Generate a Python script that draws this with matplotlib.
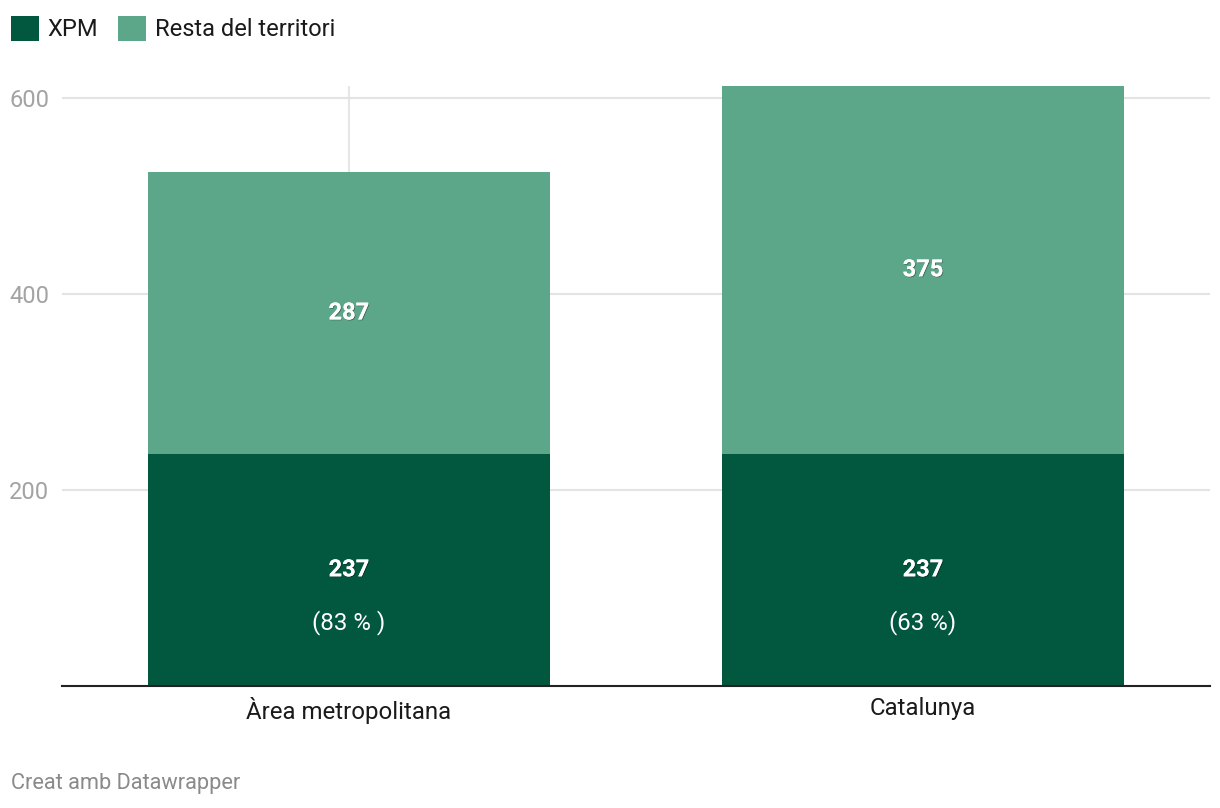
import matplotlib.pyplot as plt
import matplotlib.patheffects as pe
import numpy as np

plt.rcParams["font.family"] = ["Roboto", "DejaVu Sans"]

categories = ["Àrea metropolitana", "Catalunya"]
xpm = [237, 237]
resta = [287, 375]
pct_labels = ["(83 % )", "(63 %)"]
yticks = [200, 400, 600]

dark = "#02573f"
light = "#5ca68a"


def main():
    fig = plt.figure(figsize=(12.2, 8.08), dpi=100)
    ax = fig.add_axes([62 / 1220, 1 - 686 / 808, 1148 / 1220, 600 / 808])

    x = np.arange(len(categories))
    totals = np.array(xpm) + np.array(resta)

    b1 = ax.bar(x, xpm, width=0.7, color=dark, label="XPM", zorder=3)
    b2 = ax.bar(x, resta, bottom=xpm, width=0.7, color=light,
                label="Resta del territori", zorder=3)

    # thin grey line above the shorter bar
    ax.vlines(x[0], totals[0], totals.max(), color="#e6e6e6", lw=1.5, zorder=1)

    shadow = [pe.withSimplePatchShadow(offset=(0.6, -0.6), shadow_rgbFace="black", alpha=0.35),
              pe.Normal()]
    for i in x:
        ax.text(i, xpm[i] / 2, str(xpm[i]), ha="center", va="center",
                color="white", fontsize=17, fontweight="bold",
                path_effects=shadow, zorder=4)
        ax.text(i, xpm[i] + resta[i] / 2, str(resta[i]), ha="center", va="center",
                color="white", fontsize=17, fontweight="bold",
                path_effects=shadow, zorder=4)
        ax.annotate(pct_labels[i], (i, xpm[i] / 2), xytext=(0, -38),
                    textcoords="offset points", ha="center", va="center",
                    color="white", fontsize=17.3, zorder=4)

    ax.set_xlim(-0.5, 1.5)
    ax.set_ylim(0, totals.max())
    ax.set_yticks(yticks)
    ax.set_yticklabels([str(t) for t in yticks])
    ax.grid(axis="y", color="#e3e3e3", lw=1.5, zorder=0)
    ax.tick_params(axis="y", length=0, pad=9, labelsize=17, labelcolor="#a3a3a3")
    ax.set_xticks(x)
    ax.set_xticklabels(categories)
    ax.tick_params(axis="x", length=0, pad=8, labelsize=17.3, labelcolor="#1a1a1a")

    for s in ["top", "right", "left"]:
        ax.spines[s].set_visible(False)
    ax.spines["bottom"].set_color("#222222")
    ax.spines["bottom"].set_linewidth(1.5)
    ax.spines["bottom"].set_zorder(5)

    fig.legend(handles=[b1, b2], loc="upper left", bbox_to_anchor=(0.002, 0.99),
               ncol=2, frameon=False, fontsize=17, handlelength=1.2,
               handleheight=1.2, handletextpad=0.35, columnspacing=0.85,
               borderaxespad=0.0, borderpad=0.35, labelcolor="#1a1a1a")

    fig.text(11 / 1220, 1 - 784 / 808, "Creat amb Datawrapper", color="#8a8a8a",
             fontsize=15.7, va="center", ha="left")

    plt.savefig("out.png", dpi=100)


if __name__ == "__main__":
    main()
